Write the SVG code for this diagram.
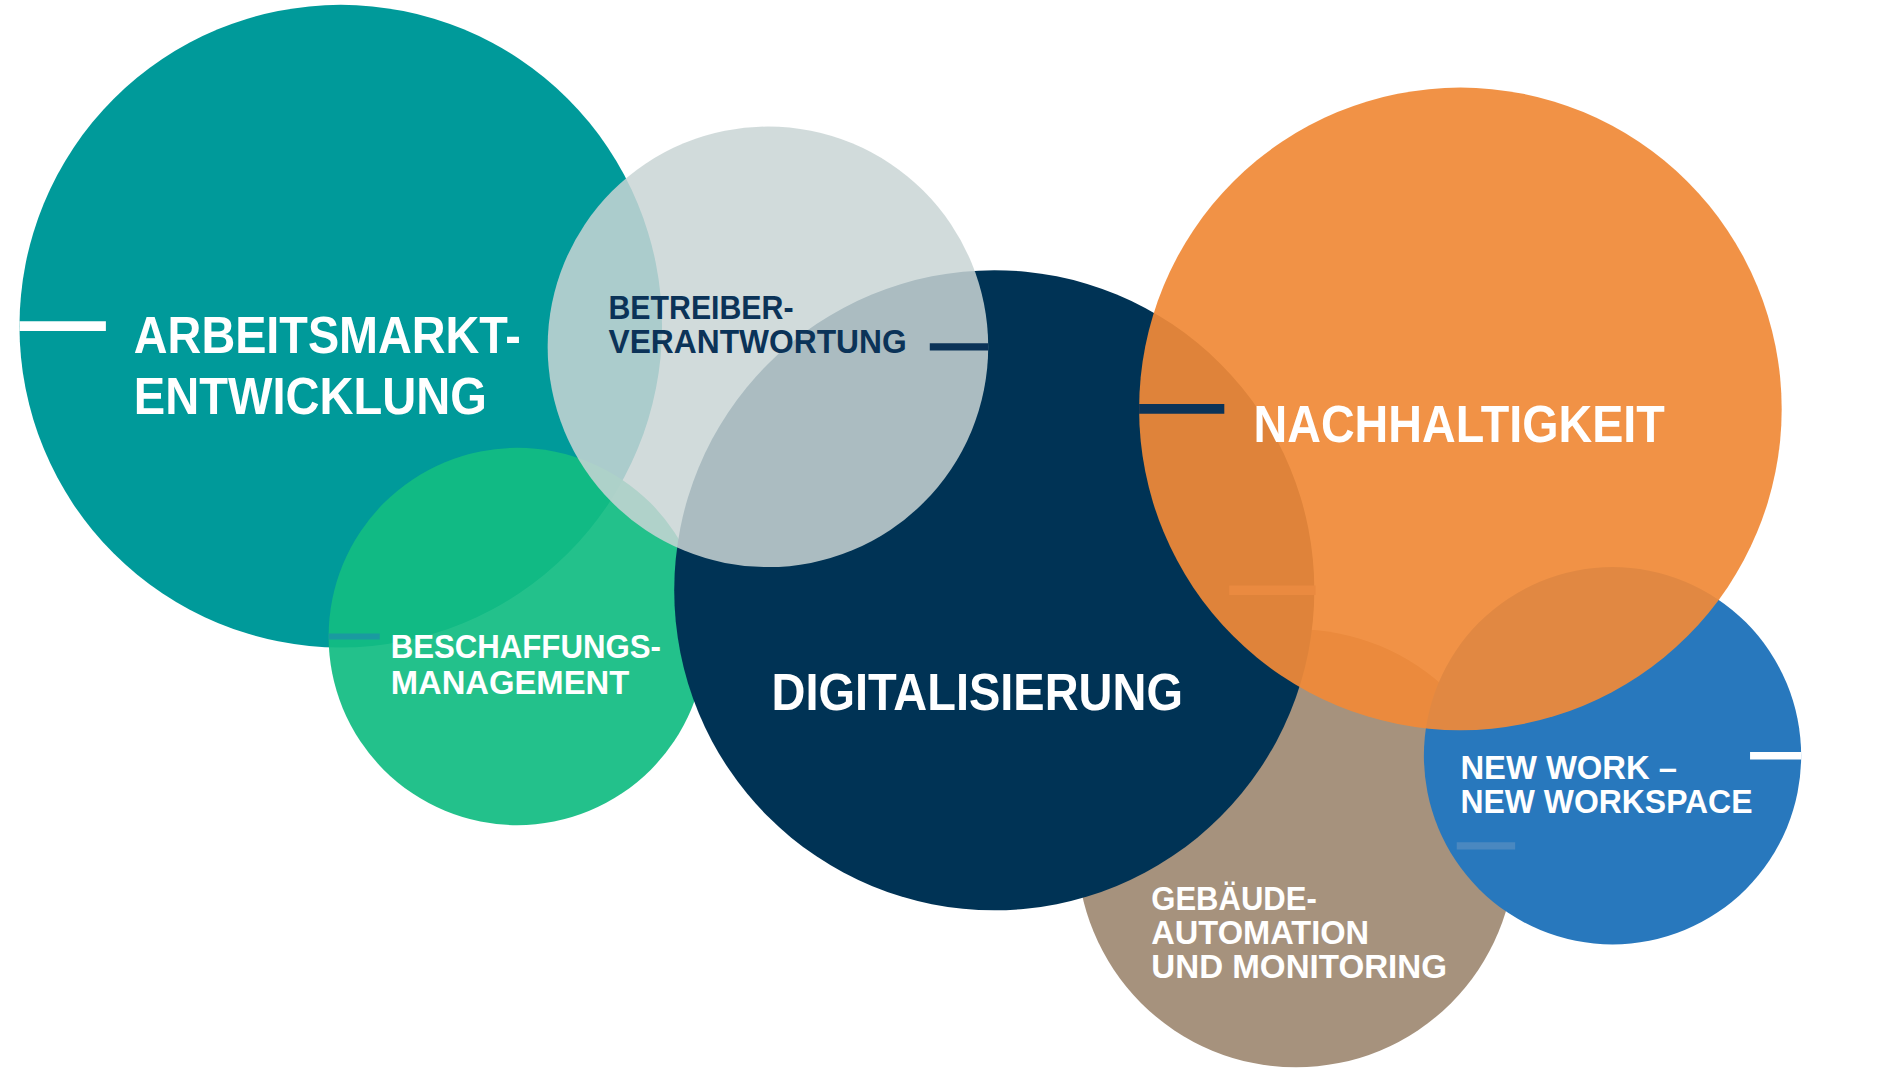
<svg xmlns="http://www.w3.org/2000/svg" width="1900" height="1069" viewBox="0 0 1900 1069">
<style>
text{font-family:"Liberation Sans Narrow","Liberation Sans",Arial,sans-serif;font-weight:bold;}
.w{fill:#fff}.n{fill:#0b3358}
.big{font-size:42px}.sm{font-size:27px}
</style>
<rect width="1900" height="1069" fill="#fff"/>
<g transform="scale(1.217)">
<g id="arbeitsmarkt"><circle cx="280" cy="268" r="264" fill="#009a9a"/></g>
<g id="beschaffung"><circle cx="425" cy="523" r="155" fill="#12bc82" fill-opacity="0.93"/></g>
<g id="gebaeude"><circle cx="1065" cy="697" r="180" fill="#a6927d"/></g>
<g id="newwork"><circle cx="1325" cy="621" r="155" fill="#2878bd"/></g>
<g id="digitalisierung"><circle cx="817" cy="485" r="263" fill="#003355"/></g>
<g id="betreiber"><circle cx="631" cy="285" r="181" fill="#c9d5d5" fill-opacity="0.85"/></g>
<g id="nachhaltigkeit"><circle cx="1200" cy="336" r="264" fill="#f08a38" fill-opacity="0.93"/></g>
<g id="connectors" stroke-linecap="butt">
<line x1="16" y1="268" x2="87" y2="268" stroke="#fff" stroke-width="8"/>
<line x1="764" y1="285" x2="812" y2="285" stroke="#0b3358" stroke-width="6"/>
<line x1="936" y1="336" x2="1006" y2="336" stroke="#0b3358" stroke-width="8"/>
<line x1="1010" y1="485" x2="1081" y2="485" stroke="#ea8a40" stroke-width="8"/>
<line x1="270" y1="523" x2="312" y2="523" stroke="#1a9aa0" stroke-width="5"/>
<line x1="1438" y1="621" x2="1480" y2="621" stroke="#fff" stroke-width="6"/>
<line x1="1197" y1="695" x2="1245" y2="695" stroke="#4a88c0" stroke-width="6"/>
</g>
<g id="labels">
<text class="w big" x="110" y="290" textLength="318" lengthAdjust="spacingAndGlyphs">ARBEITSMARKT-</text>
<text class="w big" x="110" y="340" textLength="290" lengthAdjust="spacingAndGlyphs">ENTWICKLUNG</text>
<text class="w big" x="1030" y="363" textLength="338" lengthAdjust="spacingAndGlyphs">NACHHALTIGKEIT</text>
<text class="w big" x="634" y="583" textLength="338" lengthAdjust="spacingAndGlyphs">DIGITALISIERUNG</text>
<text class="n sm" x="500" y="262" textLength="152" lengthAdjust="spacingAndGlyphs">BETREIBER-</text>
<text class="n sm" x="500" y="290" textLength="245" lengthAdjust="spacingAndGlyphs">VERANTWORTUNG</text>
<text class="w sm" x="321" y="541" textLength="222" lengthAdjust="spacingAndGlyphs">BESCHAFFUNGS-</text>
<text class="w sm" x="321" y="570" textLength="196" lengthAdjust="spacingAndGlyphs">MANAGEMENT</text>
<text class="w sm" x="1200" y="640" textLength="178" lengthAdjust="spacingAndGlyphs">NEW WORK –</text>
<text class="w sm" x="1200" y="668" textLength="240" lengthAdjust="spacingAndGlyphs">NEW WORKSPACE</text>
<text class="w sm" x="946" y="748" textLength="136" lengthAdjust="spacingAndGlyphs">GEBÄUDE-</text>
<text class="w sm" x="946" y="776" textLength="179" lengthAdjust="spacingAndGlyphs">AUTOMATION</text>
<text class="w sm" x="946" y="804" textLength="243" lengthAdjust="spacingAndGlyphs">UND MONITORING</text>
</g>
</g>
</svg>
